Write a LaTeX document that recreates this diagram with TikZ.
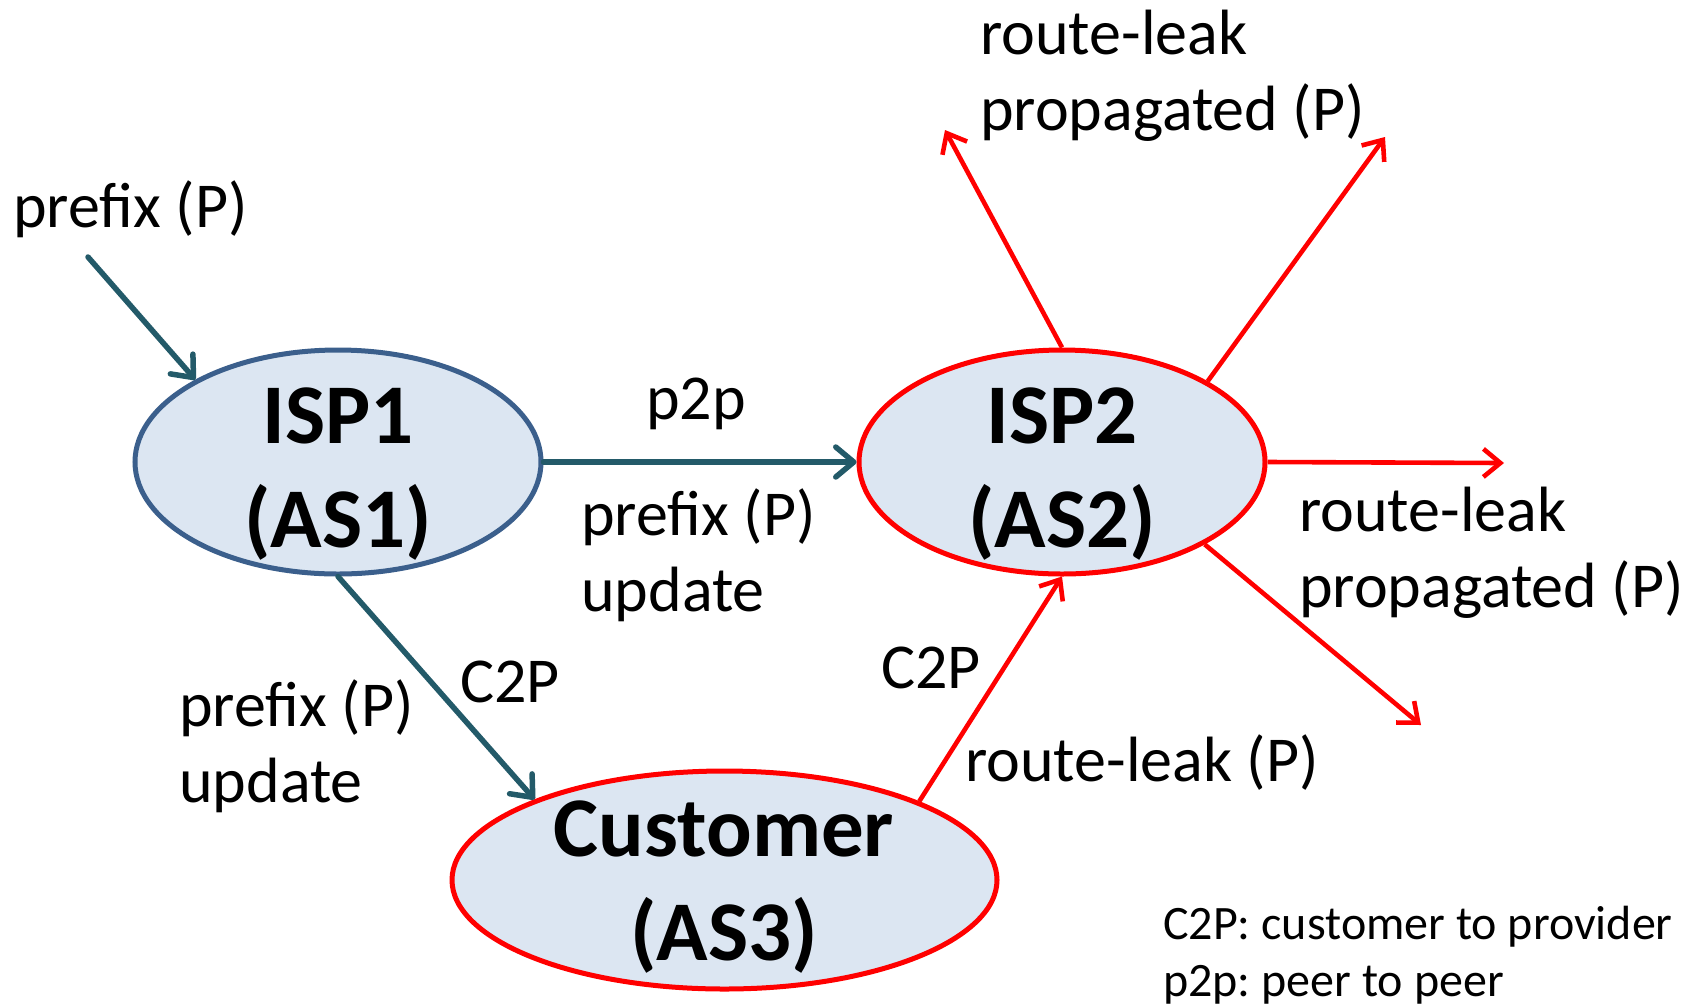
\documentclass[tikz,border=0pt]{standalone}
\usepackage{fontspec}
\setmainfont{Carlito}
\usetikzlibrary{shapes.geometric,arrows.meta}
\definecolor{tealline}{RGB}{35,90,105}
\definecolor{blueedge}{RGB}{59,95,140}
\definecolor{nodefill}{RGB}{220,230,242}
\definecolor{leakred}{RGB}{255,0,0}
\begin{document}
\frenchspacing
\begin{tikzpicture}[x=1pt,y=-1pt,
  asnode/.style={ellipse, inner sep=0pt, fill=nodefill, line width=5pt},
  astext/.style={inner sep=0pt, align=center, font=\fontsize{85}{104}\selectfont\bfseries},
  lbl/.style={inner sep=0pt, align=left, anchor=west, font=\fontsize{64}{76}\selectfont},
  legend/.style={inner sep=0pt, align=left, anchor=west, font=\fontsize{48}{57}\selectfont\frenchspacing},
  tealarrow/.style={draw=tealline, line width=5.5pt, line cap=round, -{Straight Barb[length=18pt,width=30pt,round]}},
  redarrow/.style={draw=leakred, line width=4.6pt, -{Straight Barb[length=17pt,width=28pt]}}
]
\useasboundingbox (0,0) rectangle (1697,1005);

\node[asnode, draw=blueedge, minimum width=406pt, minimum height=224pt] (isp1) at (338,462) {};
\node[asnode, draw=leakred, minimum width=406pt, minimum height=224pt] (isp2) at (1062,462) {};
\node[asnode, draw=leakred, minimum width=545pt, minimum height=218pt] (cust) at (724.5,880) {};

\node[astext] (isp1t) at (338,474) {ISP1\\(AS1)};
\node[astext] (isp2t) at (1062,474) {ISP2\\(AS2)};
\node[astext] (custt) at (724,887) {Customer\\(AS3)};

% labels
\node[lbl] (pin) at (13,209) {prefix (P)};
\node[lbl] (p2p) at (646,404) {p2p};
\node[lbl] (pu1) at (581,555) {prefix (P)\\update};
\node[lbl] (c2pa) at (460,682) {C2P};
\node[lbl] (pu2) at (179,746) {prefix (P)\\update};
\node[lbl] (c2pb) at (881,668) {C2P};
\node[lbl] (rl) at (965,763) {route-leak (P)};
\node[lbl] (rlp1) at (980,76) {route-leak\\propagated (P)};
\node[lbl] (rlp2) at (1299,553) {route-leak\\propagated (P)};
\node[legend] (leg) at (1163,955) {C2P: customer to provider\\p2p: peer to peer};

% free ends
\coordinate (pstart) at (88,257);
\coordinate (eul) at (945,130);
\coordinate (eur) at (1385,137);
\coordinate (er) at (1504,463);
\coordinate (edr) at (1421,725);

% connectors
\draw[tealarrow] (pstart) -- (isp1.150.8);
\draw[tealarrow] (isp1.east) -- (isp2.west);
\draw[tealarrow] (isp1.south) -- (cust.157.1);
\draw[redarrow] (cust.22.6) -- (isp2.south);
\draw[redarrow] (isp2.north) -- (eul);
\draw[redarrow] (isp2.29.5) -- (eur);
\draw[redarrow] (isp2.east) -- (er);
\draw[redarrow] (isp2.330.5) -- (edr);
\end{tikzpicture}
\end{document}
